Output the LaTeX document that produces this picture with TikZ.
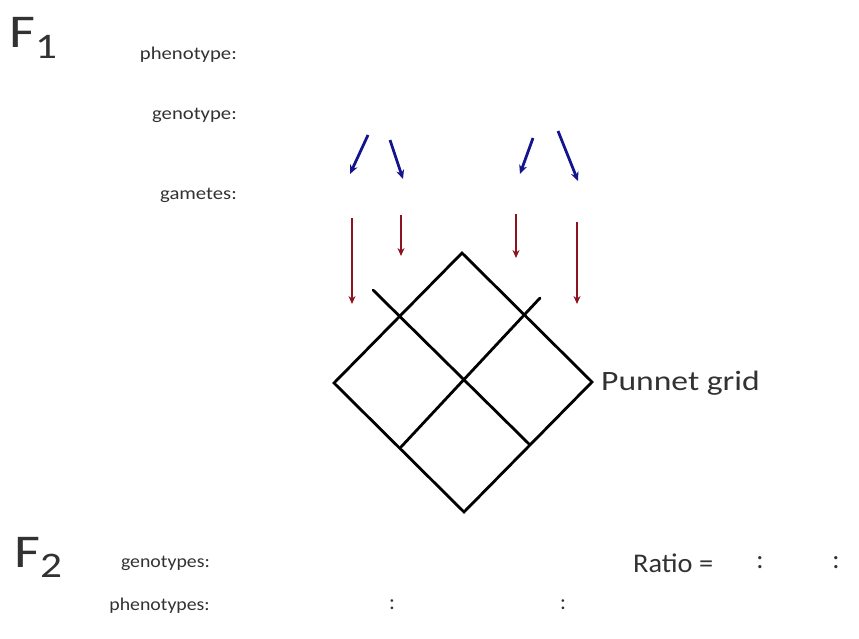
\documentclass[tikz,border=0pt]{standalone}
\usepackage{fontspec}
\setmainfont{Carlito}
\usetikzlibrary{arrows.meta}
\definecolor{txt}{RGB}{50,50,50}
\definecolor{blu}{RGB}{20,20,140}
\definecolor{rd}{RGB}{140,20,30}
\tikzset{
  lab/.style={text=txt, inner sep=0pt, anchor=east, font=\fontsize{18}{18}\selectfont},
  big/.style={text=txt, inner sep=0pt, anchor=base west, font=\fontsize{47}{47}\selectfont},
  mid/.style={text=txt, inner sep=0pt, font=\fontsize{27}{27}\selectfont},
  barrow/.style={draw=blu, line width=2.8pt, -{Stealth[length=9pt,width=8pt]}},
  rarrow/.style={draw=rd, line width=2.8pt, -{Stealth[length=8pt,width=7pt]}},
  gridline/.style={draw=black, line width=2.8pt, line cap=round, line join=miter}
}
\begin{document}
\begin{tikzpicture}[x=1pt,y=-1pt]
\useasboundingbox (0,0) rectangle (859,639);
% headings
\node[big] (f1) at (9,48) {\scalebox{1.2}[1]{F\raisebox{-0.22em}{\fontsize{36}{36}\selectfont 1}}};
\node[big] (f2) at (14,567) {\scalebox{1.2}[1]{F\raisebox{-0.22em}{\fontsize{36}{36}\selectfont 2}}};
% labels
\node[lab] (pheno) at (237,55) {\scalebox{1.15}[1]{phenotype:}};
\node[lab] (geno) at (237,115) {\scalebox{1.15}[1]{genotype:}};
\node[lab] (gam) at (237,195) {\scalebox{1.15}[1]{gametes:}};
\node[lab] (genos) at (210,563) {\scalebox{1.1}[1]{genotypes:}};
\node[lab] (phenos) at (210,606) {\scalebox{1.1}[1]{phenotypes:}};
\node[lab, anchor=center] (c1) at (392,605) {\fontsize{22}{22}\selectfont :};
\node[lab, anchor=center] (c2) at (563,605) {\fontsize{22}{22}\selectfont :};
\node[mid, anchor=west] (ratio) at (633,563) {\scalebox{1.05}[1]{Ratio =}};
\node[mid, anchor=center] (c3) at (760,563) {:};
\node[mid, anchor=center] (c4) at (836,563) {:};
% blue arrows
\coordinate (b1s) at (368,135); \coordinate (b1e) at (350,174);
\coordinate (b2s) at (390,140); \coordinate (b2e) at (403,179);
\coordinate (b3s) at (533,138); \coordinate (b3e) at (520,174);
\coordinate (b4s) at (558,131); \coordinate (b4e) at (578,181);
\draw[barrow] (b1s) -- (b1e);
\draw[barrow] (b2s) -- (b2e);
\draw[barrow] (b3s) -- (b3e);
\draw[barrow] (b4s) -- (b4e);
% red arrows
\coordinate (r1s) at (352,218); \coordinate (r1e) at (352,304);
\coordinate (r2s) at (401,215); \coordinate (r2e) at (401,256);
\coordinate (r3s) at (516,214); \coordinate (r3e) at (516,258);
\coordinate (r4s) at (577,222); \coordinate (r4e) at (577,304);
\draw[rarrow] (r1s) -- (r1e);
\draw[rarrow] (r2s) -- (r2e);
\draw[rarrow] (r3s) -- (r3e);
\draw[rarrow] (r4s) -- (r4e);
% Punnett grid
\coordinate (T) at (462,253);
\coordinate (R) at (592,382);
\coordinate (B) at (464,512);
\coordinate (L) at (334,383);
\coordinate (BL) at (401,447);
\coordinate (BR) at (529,444);
\coordinate (x1) at (373,290);
\coordinate (x2) at (540,298);
\draw[gridline] (T) -- (R) -- (B) -- (L) -- cycle;
\draw[gridline] (x1) -- (BR);
\draw[gridline] (x2) -- (BL);
\node[mid, anchor=west] (pg) at (601,383) {\fontsize{28}{28}\selectfont\scalebox{1.2}[1]{Punnet grid}};
\end{tikzpicture}
\end{document}
